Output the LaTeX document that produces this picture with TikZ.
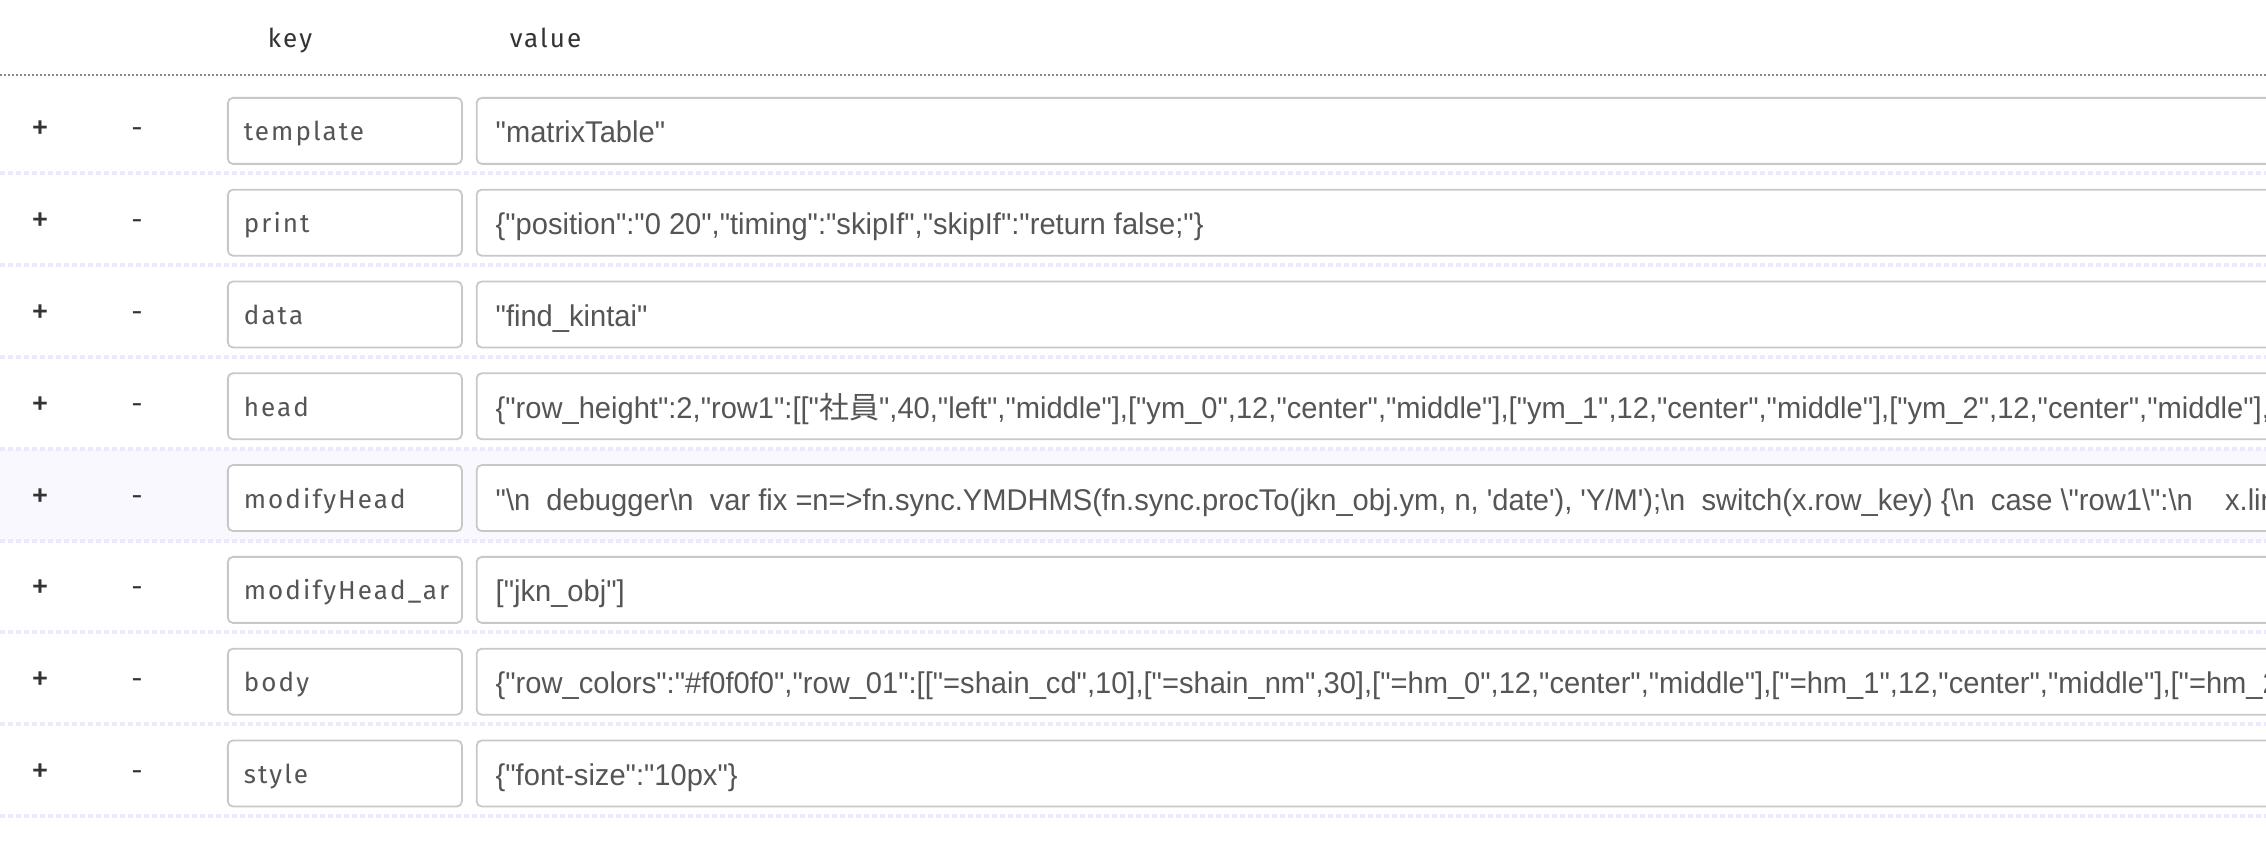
\documentclass[tikz,border=0pt]{standalone}
\usepackage{fontspec}
\setmainfont{Liberation Sans}[Ligatures=TeXOff, FakeStretch=0.97]
\newfontfamily\keyfont{Fira Sans}[LetterSpace=8]
\newfontfamily\jpfont{Noto Sans CJK JP}
\usetikzlibrary{matrix,backgrounds}

\definecolor{boxline}{HTML}{C8C8C8}
\definecolor{valtext}{HTML}{555555}
\definecolor{keytext}{HTML}{555555}
\definecolor{headtext}{HTML}{333333}
\definecolor{sepline}{HTML}{EAEAFA}
\definecolor{hoverrow}{HTML}{F8F8FE}
\definecolor{rulegray}{HTML}{888888}
\newcommand\bs{\textbackslash}

\tikzset{
	pm/.style={font=\keyfont\fontsize{18}{20}\selectfont, text=headtext, minimum height=33pt, text height=9pt, text depth=0pt},
	mn/.style={font=\keyfont\fontsize{14}{16}\selectfont, text=headtext, minimum height=33pt, text height=7pt, text depth=0pt},
	keybox/.style={draw=boxline, fill=white, line width=0.9pt, rounded corners=2.5pt, minimum width=117pt, minimum height=33pt, inner xsep=8pt, text height=10pt, text depth=0pt, text=keytext, font=\keyfont\fontsize{13}{15}\selectfont, execute at begin node={\hbox to 101pt\bgroup}, execute at end node={\hss\egroup}},
	valbox/.style={draw=boxline, fill=white, line width=0.9pt, rounded corners=2.5pt, minimum width=950pt, minimum height=33pt, inner xsep=9.5pt, text height=12pt, text depth=0pt, text=valtext, font=\fontsize{15}{18}\selectfont, execute at begin node={\hbox to 931pt\bgroup}, execute at end node={\hss\egroup}},
	headlabel/.style={font=\keyfont\fontsize{13}{15}\selectfont, text=headtext, anchor=base},
	rowsep/.style={draw=sepline, line width=2pt, dash pattern=on 2.5pt off 1.5pt},
	headrule/.style={draw=rulegray, line width=1pt, dash pattern=on 1pt off 1pt}
}

\begin{document}
\begin{tikzpicture}
	\path[use as bounding box, clip] (0,0) rectangle (1133pt,422pt);
	\coordinate (L) at (0,0);
	\coordinate (R) at (1133pt,0);
	\node[headlabel] (hkey) at (145pt,398pt) {key};
	\node[headlabel] (hval) at (272.75pt,398pt) {value};
	\draw[headrule] (0,384.5pt) -- (1133pt,384.5pt);
	\matrix (m) [matrix of nodes, anchor=north west, inner sep=0pt, outer sep=0pt, column sep=0pt, row sep=12pt,
		nodes={anchor=center, outer sep=0pt, inner ysep=0pt},
		column 1/.style={nodes={pm, minimum width=40pt}},
		column 2/.style={nodes={mn, minimum width=57pt}},
		column 3/.style={nodes={keybox}},
		column 4/.style={nodes={valbox}}] at (0,373.5pt)
	{
		+ & - &[16.5pt] template &[6.5pt] "matrixTable" \\
		+ & - &[16.5pt] print &[6.5pt] \{"position":"0 20","timing":"skipIf","skipIf":"return false;"\} \\
		+ & - &[16.5pt] data &[6.5pt] "find\_kintai" \\
		+ & - &[16.5pt] head &[6.5pt] \{"row\_height":2,"row1":[["{\jpfont 社員}",40,"left","middle"],["ym\_0",12,"center","middle"],["ym\_1",12,"center","middle"],["ym\_2",12,"center","middle"],[ \\
		+ & - &[16.5pt] modifyHead &[6.5pt] "\bs n\ \ debugger\bs n\ \ var fix =n=>fn.sync.YMDHMS(fn.sync.procTo(jkn\_obj.ym, n, 'date'), 'Y/M');\bs n\ \ switch(x.row\_key) \{\bs n\ \ case \bs"row1\bs":\bs n\ \ \ \ x.line[1 \\
		+ & - &[16.5pt] modifyHead\_ar &[6.5pt] {["jkn\_obj"]} \\
		+ & - &[16.5pt] body &[6.5pt] \{"row\_colors":"\#f0f0f0","row\_01":[["=shain\_cd",10],["=shain\_nm",30],["=hm\_0",12,"center","middle"],["=hm\_1",12,"center","middle"],["=hm\_2" \\
		+ & - &[16.5pt] style &[6.5pt] \{"font-size":"10px"\} \\
	};
	\foreach \i in {1,...,8} {
		\coordinate (s\i) at ([yshift=-4.8pt]m-\i-3.south);
		\draw[rowsep] (s\i -| L) -- (s\i -| R);
	}
	\begin{scope}[on background layer]
		\fill[white] (0,0) rectangle (1133pt,422pt);
		\fill[hoverrow] (s4 -| L) rectangle (s5 -| R);
	\end{scope}
\end{tikzpicture}
\end{document}
